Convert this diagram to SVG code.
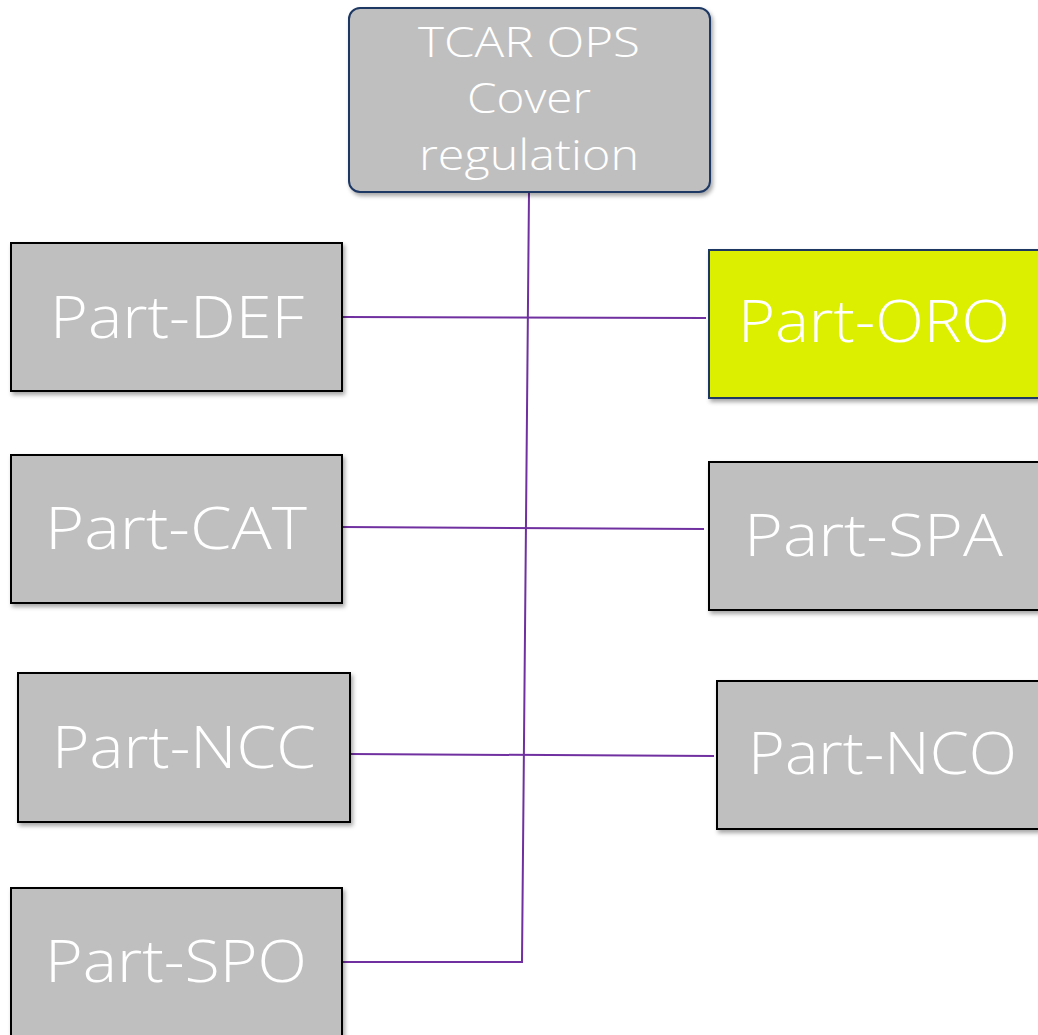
<svg xmlns="http://www.w3.org/2000/svg" width="1038" height="1035" viewBox="0 0 1038 1035">
  <style>
    .box { fill: #bfbfbf; stroke: #000; stroke-width: 2; filter: url(#shadow); }
    .hl { fill: #dcef00; stroke: #1f3864; }
    .top { stroke: #1f3864; }
    .lbl { font-family: "Open Sans", "Noto Sans", sans-serif; font-weight: 300; fill: #fff; font-size: 58px; }
    .lbl-s { font-family: "Open Sans", "Noto Sans", sans-serif; font-weight: 300; fill: #fff; font-size: 42px; }
    .wire { fill: none; stroke: #7030a0; stroke-width: 2; }
  </style>
  <defs>
    <filter id="shadow" x="-5%" y="-5%" width="115%" height="115%">
      <feDropShadow dx="2" dy="3" stdDeviation="2" flood-color="#000" flood-opacity="0.35"/>
    </filter>
  </defs>
  <rect width="1038" height="1035" fill="#fff"/>

  <g id="connectors">
    <polyline class="wire" points="529,192 522,962 342,962"/>
    <line class="wire" x1="342" y1="317" x2="706" y2="318"/>
    <line class="wire" x1="342" y1="527" x2="704" y2="529"/>
    <line class="wire" x1="350" y1="754" x2="714" y2="756"/>
  </g>

  <g id="cover">
    <rect class="box top" x="349" y="8" width="361" height="184" rx="11"/>
    <text class="lbl-s" x="418" y="57" textLength="222" lengthAdjust="spacingAndGlyphs">TCAR OPS</text>
    <text class="lbl-s" x="467" y="113" textLength="124" lengthAdjust="spacingAndGlyphs">Cover</text>
    <text class="lbl-s" x="419" y="170" textLength="220" lengthAdjust="spacingAndGlyphs">regulation</text>
  </g>

  <g id="part-def">
    <rect class="box" x="11" y="243" width="331" height="148"/>
    <text class="lbl" x="50" y="338" textLength="254" lengthAdjust="spacingAndGlyphs">Part-DEF</text>
  </g>
  <g id="part-cat">
    <rect class="box" x="11" y="455" width="331" height="148"/>
    <text class="lbl" x="45" y="549" textLength="262" lengthAdjust="spacingAndGlyphs">Part-CAT</text>
  </g>
  <g id="part-ncc">
    <rect class="box" x="18" y="673" width="332" height="149"/>
    <text class="lbl" x="52" y="768" textLength="264" lengthAdjust="spacingAndGlyphs">Part-NCC</text>
  </g>
  <g id="part-spo">
    <rect class="box" x="11" y="888" width="331" height="160"/>
    <text class="lbl" x="45" y="982" textLength="262" lengthAdjust="spacingAndGlyphs">Part-SPO</text>
  </g>

  <g id="part-oro">
    <rect class="box hl" x="709" y="250" width="340" height="148"/>
    <text class="lbl" x="738" y="342" textLength="272" lengthAdjust="spacingAndGlyphs">Part-ORO</text>
  </g>
  <g id="part-spa">
    <rect class="box" x="709" y="462" width="340" height="148"/>
    <text class="lbl" x="744" y="556" textLength="259" lengthAdjust="spacingAndGlyphs">Part-SPA</text>
  </g>
  <g id="part-nco">
    <rect class="box" x="717" y="681" width="340" height="148"/>
    <text class="lbl" x="748" y="774" textLength="269" lengthAdjust="spacingAndGlyphs">Part-NCO</text>
  </g>
</svg>
